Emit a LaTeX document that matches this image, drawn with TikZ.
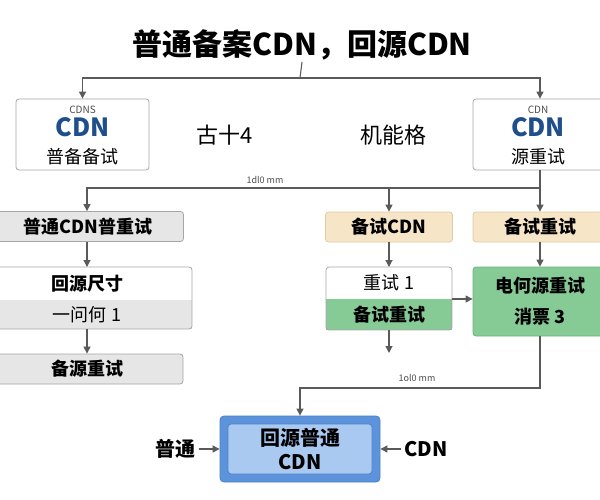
\documentclass[tikz,border=0pt]{standalone}
\usepackage{fontspec}
\setmainfont{Noto Sans CJK SC}
\usetikzlibrary{arrows.meta,positioning}
\definecolor{linegray}{HTML}{5A5A5A}
\definecolor{boxline}{HTML}{A6A6A6}
\definecolor{boxgray}{HTML}{E6E6E6}
\definecolor{tanfill}{HTML}{F6E5C6}
\definecolor{tanline}{HTML}{E0CBA2}
\definecolor{greenfill}{HTML}{86CB96}
\definecolor{greenline}{HTML}{6DB47F}
\definecolor{cdnblue}{HTML}{1F4E8C}
\definecolor{hubout}{HTML}{5C93DA}
\definecolor{hubin}{HTML}{A9C9F1}
\definecolor{hubline}{HTML}{4A80C8}
\begin{document}
\begin{tikzpicture}[x=1pt,y=-1pt,
	>={Triangle[length=7pt,width=7pt]},
	arr/.style={->,draw=linegray,line width=1.1pt},
	plainline/.style={draw=linegray,line width=1.1pt},
	box/.style={draw=boxline,rounded corners=3pt,line width=0.8pt,inner sep=0pt},
	boldtext/.style={font=\fontsize{18}{22}\selectfont\bfseries},
	regtext/.style={font=\fontsize{18}{22}\selectfont},
	graybox/.style={box,fill=boxgray,minimum height=30pt,boldtext},
	tanbox/.style={box,draw=tanline,fill=tanfill,minimum width=127pt,minimum height=30pt,boldtext},
	half/.style={inner sep=0pt,outer sep=0pt},
	topbox/.style={box,fill=white,minimum height=71pt},
	mmlabel/.style={font=\fontsize{9}{11}\selectfont,text=black!70},
	bigword/.style={font=\fontsize{22}{26}\selectfont}]
\useasboundingbox (0,0) rectangle (600,500);

% title
\node[font=\fontsize{30}{36}\selectfont\bfseries] (title) at (302,45) {普通备案CDN，回源CDN};
\coordinate (tj) at (300,78);

% top row
\node[topbox,minimum width=133pt] (cdnl) at (82.5,134.5) {};
\node[font=\fontsize{10}{12}\selectfont,text=black!70] (cdnltag) at (82.5,110) {CDNS};
\node[font=\fontsize{25}{30}\selectfont\bfseries,text=cdnblue] (cdnlname) at (82.5,127) {CDN};
\node[regtext] (cdnldesc) at (82.5,157) {普备备试};

\node[topbox,minimum width=134pt] (cdnr) at (540,134.5) {};
\node[font=\fontsize{10}{12}\selectfont,text=black!70] (cdnrtag) at (538,110) {CDN};
\node[font=\fontsize{25}{30}\selectfont\bfseries,text=cdnblue] (cdnrname) at (538,127) {CDN};
\node[regtext] (cdnrdesc) at (538,157) {源重试};

\node[bigword] (gushi) at (225,135) {古十4};
\node[bigword] (jineng) at (393,135) {机能格};

% second row
\node[graybox,minimum width=191pt] (plain) at (88,226.5) {普通CDN普重试};
\node[tanbox] (bakcdn) at (389,227) {备试CDN};
\node[tanbox,minimum width=134pt] (bakretry) at (540,227) {备试重试};

% third row
\node[half,fill=white,minimum width=210pt,minimum height=33pt,boldtext] (sizet) at (87,283.5) {回源尺寸};
\node[half,fill=boxgray,minimum width=210pt,minimum height=29pt,regtext] (sizeb) at (87,314.5) {一问何 1};
\draw[draw=boxline,line width=0.8pt,rounded corners=3pt] (sizet.north west) rectangle (sizeb.south east);

\node[half,fill=white,minimum width=126pt,minimum height=32pt,regtext] (tryt) at (389,283) {重试 1};
\node[half,fill=greenfill,minimum width=126pt,minimum height=31pt,boldtext] (tryb) at (389,314.5) {备试重试};
\draw[draw=boxline,line width=0.8pt,rounded corners=3pt] (tryt.north west) rectangle (tryb.south east);

\node[box,draw=greenline,fill=greenfill,minimum width=134pt,minimum height=69pt,align=center,
	font=\fontsize{18}{31}\selectfont\bfseries] (elec) at (540,301.5) {电何源重试\\消票 3};

% fourth row
\node[graybox,minimum width=191pt] (srcretry) at (87.5,369) {备源重试};
\coordinate (midend) at (389,353);

% hub
\node[box,draw=hubline,fill=hubout,minimum width=160pt,minimum height=66pt,rounded corners=4pt] (hub) at (300,449) {};
\node[box,draw=hubline,fill=hubin,minimum width=144pt,minimum height=50pt,align=center,
	font=\fontsize{20}{24}\selectfont\bfseries] (hubin) at (300,449) {回源普通\\CDN};
\node[font=\fontsize{20}{24}\selectfont\bfseries] (putong) at (175,449) {普通};
\node[font=\fontsize{20}{24}\selectfont\bfseries] (cdnin) at (426,449) {CDN};

% connectors
\draw[plainline] (title.south |- 0,62) -- (tj);
\draw[arr] (tj) -| (cdnl.north);
\draw[arr] (tj) -| (cdnr.north);

\coordinate (jr) at (cdnr.south |- 0,188);
\draw[arr] (cdnr.south) -- (jr) -| (plain.north -| sizet.north);
\draw[arr] (jr) -- (bakretry.north);
\draw[arr] (bakcdn.north |- jr) -- (bakcdn.north);
\node[mmlabel] (mmtop) at (265,180) {1dl0 mm};

\draw[arr] (plain.south -| sizet.north) -- (sizet.north);
\draw[arr] (sizeb.south) -- (srcretry.north -| sizeb.south);
\draw[arr] (bakcdn.south) -- (tryt.north);
\draw[arr] (bakretry.south) -- (elec.north);
\draw[arr] (tryt.south east) -- (tryt.south east -| elec.west);
\draw[arr] (tryb.south) -- (midend);

\coordinate (jb) at (hub.north |- 0,388);
\draw[arr] (elec.south) |- (jb) -- (hub.north);
\node[mmlabel] (mmbot) at (417,378) {1ol0 mm};

\draw[arr] (putong) -- (hub.west);
\draw[arr] (cdnin) -- (hub.east);
\end{tikzpicture}
\end{document}
